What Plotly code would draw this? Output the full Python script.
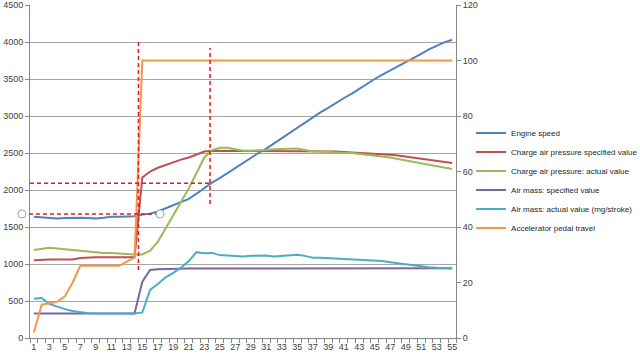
import plotly.graph_objects as go

x_index = list(range(1, 56))

engine_speed = [1640, 1630, 1625, 1615, 1620, 1625, 1625, 1620, 1615, 1625,
                1640, 1640, 1640, 1645, 1670, 1680, 1710, 1750, 1800, 1840,
                1880, 1950, 2030, 2100, 2160, 2230, 2300, 2370, 2440, 2500,
                2560, 2630, 2710, 2780, 2840, 2910, 2980, 3050, 3110, 3180,
                3240, 3300, 3370, 3430, 3500, 3560, 3615, 3670, 3720, 3780,
                3840, 3900, 3950, 3995, 4030]

charge_spec = [1050, 1060, 1060, 1060, 1060, 1060, 1080, 1090, 1090, 1090,
               1090, 1090, 1090, 1090, 2170, 2250, 2300, 2340, 2380, 2410,
               2440, 2480, 2520, 2530, 2530, 2530, 2530, 2530, 2530, 2530,
               2530, 2530, 2530, 2530, 2530, 2530, 2530, 2525, 2520, 2520,
               2515, 2510, 2505, 2500, 2495, 2485, 2475, 2465, 2450, 2440,
               2425, 2410, 2395, 2380, 2365]

charge_actual = [1190, 1200, 1220, 1210, 1200, 1190, 1170, 1160, 1160, 1150,
                 1150, 1140, 1140, 1130, 1130, 1180, 1300, 1480, 1650, 1840,
                 2020, 2230, 2440, 2540, 2570, 2570, 2550, 2530, 2530, 2530,
                 2540, 2550, 2550, 2560, 2560, 2540, 2520, 2520, 2510, 2500,
                 2500, 2500, 2490, 2480, 2470, 2460, 2440, 2420, 2400, 2380,
                 2360, 2340, 2320, 2300, 2285]

airmass_spec = [330, 330, 330, 330, 330, 330, 330, 330, 330, 330,
                330, 330, 330, 330, 760, 920, 930, 935, 940, 940,
                940, 940, 940, 940, 940, 940, 940, 940, 940, 940,
                940, 948, 950, 950, 950, 950, 950, 950, 950, 950,
                950, 950, 950, 950, 950, 950, 950, 950, 950, 950,
                950, 948, 946, 944, 942]

airmass_actual = [530, 540, 460, 420, 390, 365, 345, 335, 330, 330,
                  330, 330, 330, 330, 345, 650, 730, 820, 880, 950,
                  1040, 1160, 1145, 1150, 1120, 1110, 1100, 1100, 1110, 1110,
                  1115, 1100, 1110, 1120, 1125, 1110, 1085, 1085, 1080, 1075,
                  1070, 1065, 1065, 1060, 1045, 1040, 1025, 1010, 1000, 980,
                  965, 955, 950, 945, 940]

pedal_travel = [2, 12, 12.5, 13, 15, 20, 26, 26, 26, 26,
                26, 26, 27.5, 29, 100, 100, 100, 100, 100, 100,
                100, 100, 100, 100, 100, 100, 100, 100, 100, 100,
                100, 100, 100, 100, 100, 100, 100, 100, 100, 100,
                100, 100, 100, 100, 100, 100, 100, 100, 100, 100,
                100, 100, 100, 100, 100]

series_names = ["Engine speed", "Charge air pressure specified value",
                "Charge air pressure: actual value", "Air mass: specified value",
                "Air mass: actual value (mg/stroke)", "Accelerator pedal travel"]
colors = ["#4F81BD", "#C0504D", "#9BBB59", "#8064A2", "#4BACC6", "#F79646"]

left_ticks = list(range(0, 4501, 500))
right_ticks = list(range(0, 121, 20))
x_ticks = list(range(1, 56, 2))

XR = [0.5, 55.5]
YR = [0, 4500]

# annotation (guide) lines, in data units
guide_v = [(14.5, 920, 4000), (23.75, 1810, 3920)]
guide_h = [(2090, None, 23.75), (1676, -0.54, 17.3)]
guide_circles = [(-0.54, 1676), (17.3, 1676)]

fig = go.Figure()
prim = [engine_speed, charge_spec, charge_actual, airmass_spec, airmass_actual]
for name, col, ys in zip(series_names[:5], colors[:5], prim):
    fig.add_trace(go.Scatter(x=x_index, y=ys, name=name, mode="lines",
                             line=dict(color=col, width=2)))
fig.add_trace(go.Scatter(x=x_index, y=pedal_travel, name=series_names[5], mode="lines",
                         line=dict(color=colors[5], width=2), yaxis="y2"))


def px(v):
    return (v - XR[0]) / (XR[1] - XR[0])


def py(v):
    return (v - YR[0]) / (YR[1] - YR[0])


shapes = []
dash_col = "#E51A1A"
for xv, y0, y1 in guide_v:
    shapes.append(dict(type="line", xref="paper", yref="paper", x0=px(xv), x1=px(xv),
                       y0=py(y0), y1=py(y1), line=dict(color=dash_col, width=1.5, dash="4px,3px")))
for yv, x0, x1 in guide_h:
    shapes.append(dict(type="line", xref="paper", yref="paper",
                       x0=0 if x0 is None else px(x0), x1=px(x1),
                       y0=py(yv), y1=py(yv), line=dict(color=dash_col, width=1.5, dash="4px,3px")))
for xv, yv in guide_circles:
    shapes.append(dict(type="circle", xref="paper", yref="paper", xsizemode="pixel",
                       ysizemode="pixel", xanchor=px(xv), yanchor=py(yv),
                       x0=-4, x1=4, y0=-4, y1=4, fillcolor="white",
                       line=dict(color="#8FA6C4", width=1)))

tick_font = dict(family="Liberation Sans, Arial", size=9, color="#404040")

fig.update_layout(
    width=640, height=360,
    margin=dict(l=30, r=184, t=5, b=22),
    paper_bgcolor="white", plot_bgcolor="white",
    showlegend=True,
    legend=dict(xref="container", yref="container", x=0.736, y=0.4986,
                xanchor="left", yanchor="middle",
                font=dict(family="Liberation Sans, Arial", size=8, color="#262626"),
                tracegroupgap=0, itemwidth=30, bgcolor="rgba(0,0,0,0)"),
    shapes=shapes,
    xaxis=dict(range=XR, tickvals=x_ticks, ticktext=[str(t) for t in x_ticks],
               tickfont=tick_font, showgrid=False, zeroline=False, automargin=False,
               showline=True, linecolor="#868686", linewidth=1, ticks="",
               minor=dict(tick0=0.5, dtick=1, ticks="outside", ticklen=4, tickcolor="#868686")),
    yaxis=dict(range=YR, tickvals=left_ticks, tickfont=tick_font, showgrid=True, automargin=False,
               gridcolor="#A6A6A6", gridwidth=1, zeroline=False, showline=True,
               linecolor="#868686", ticks="outside", ticklen=4, tickcolor="#868686"),
    yaxis2=dict(range=[0, 120], tickvals=right_ticks, tickfont=tick_font, overlaying="y",
                side="right", showgrid=False, zeroline=False, showline=True, automargin=False,
                linecolor="#868686", ticks="outside", ticklen=4, tickcolor="#868686"),
)

fig.write_html("out.html", config={"displayModeBar": False},
               post_script="document.body.style.margin='0';")
